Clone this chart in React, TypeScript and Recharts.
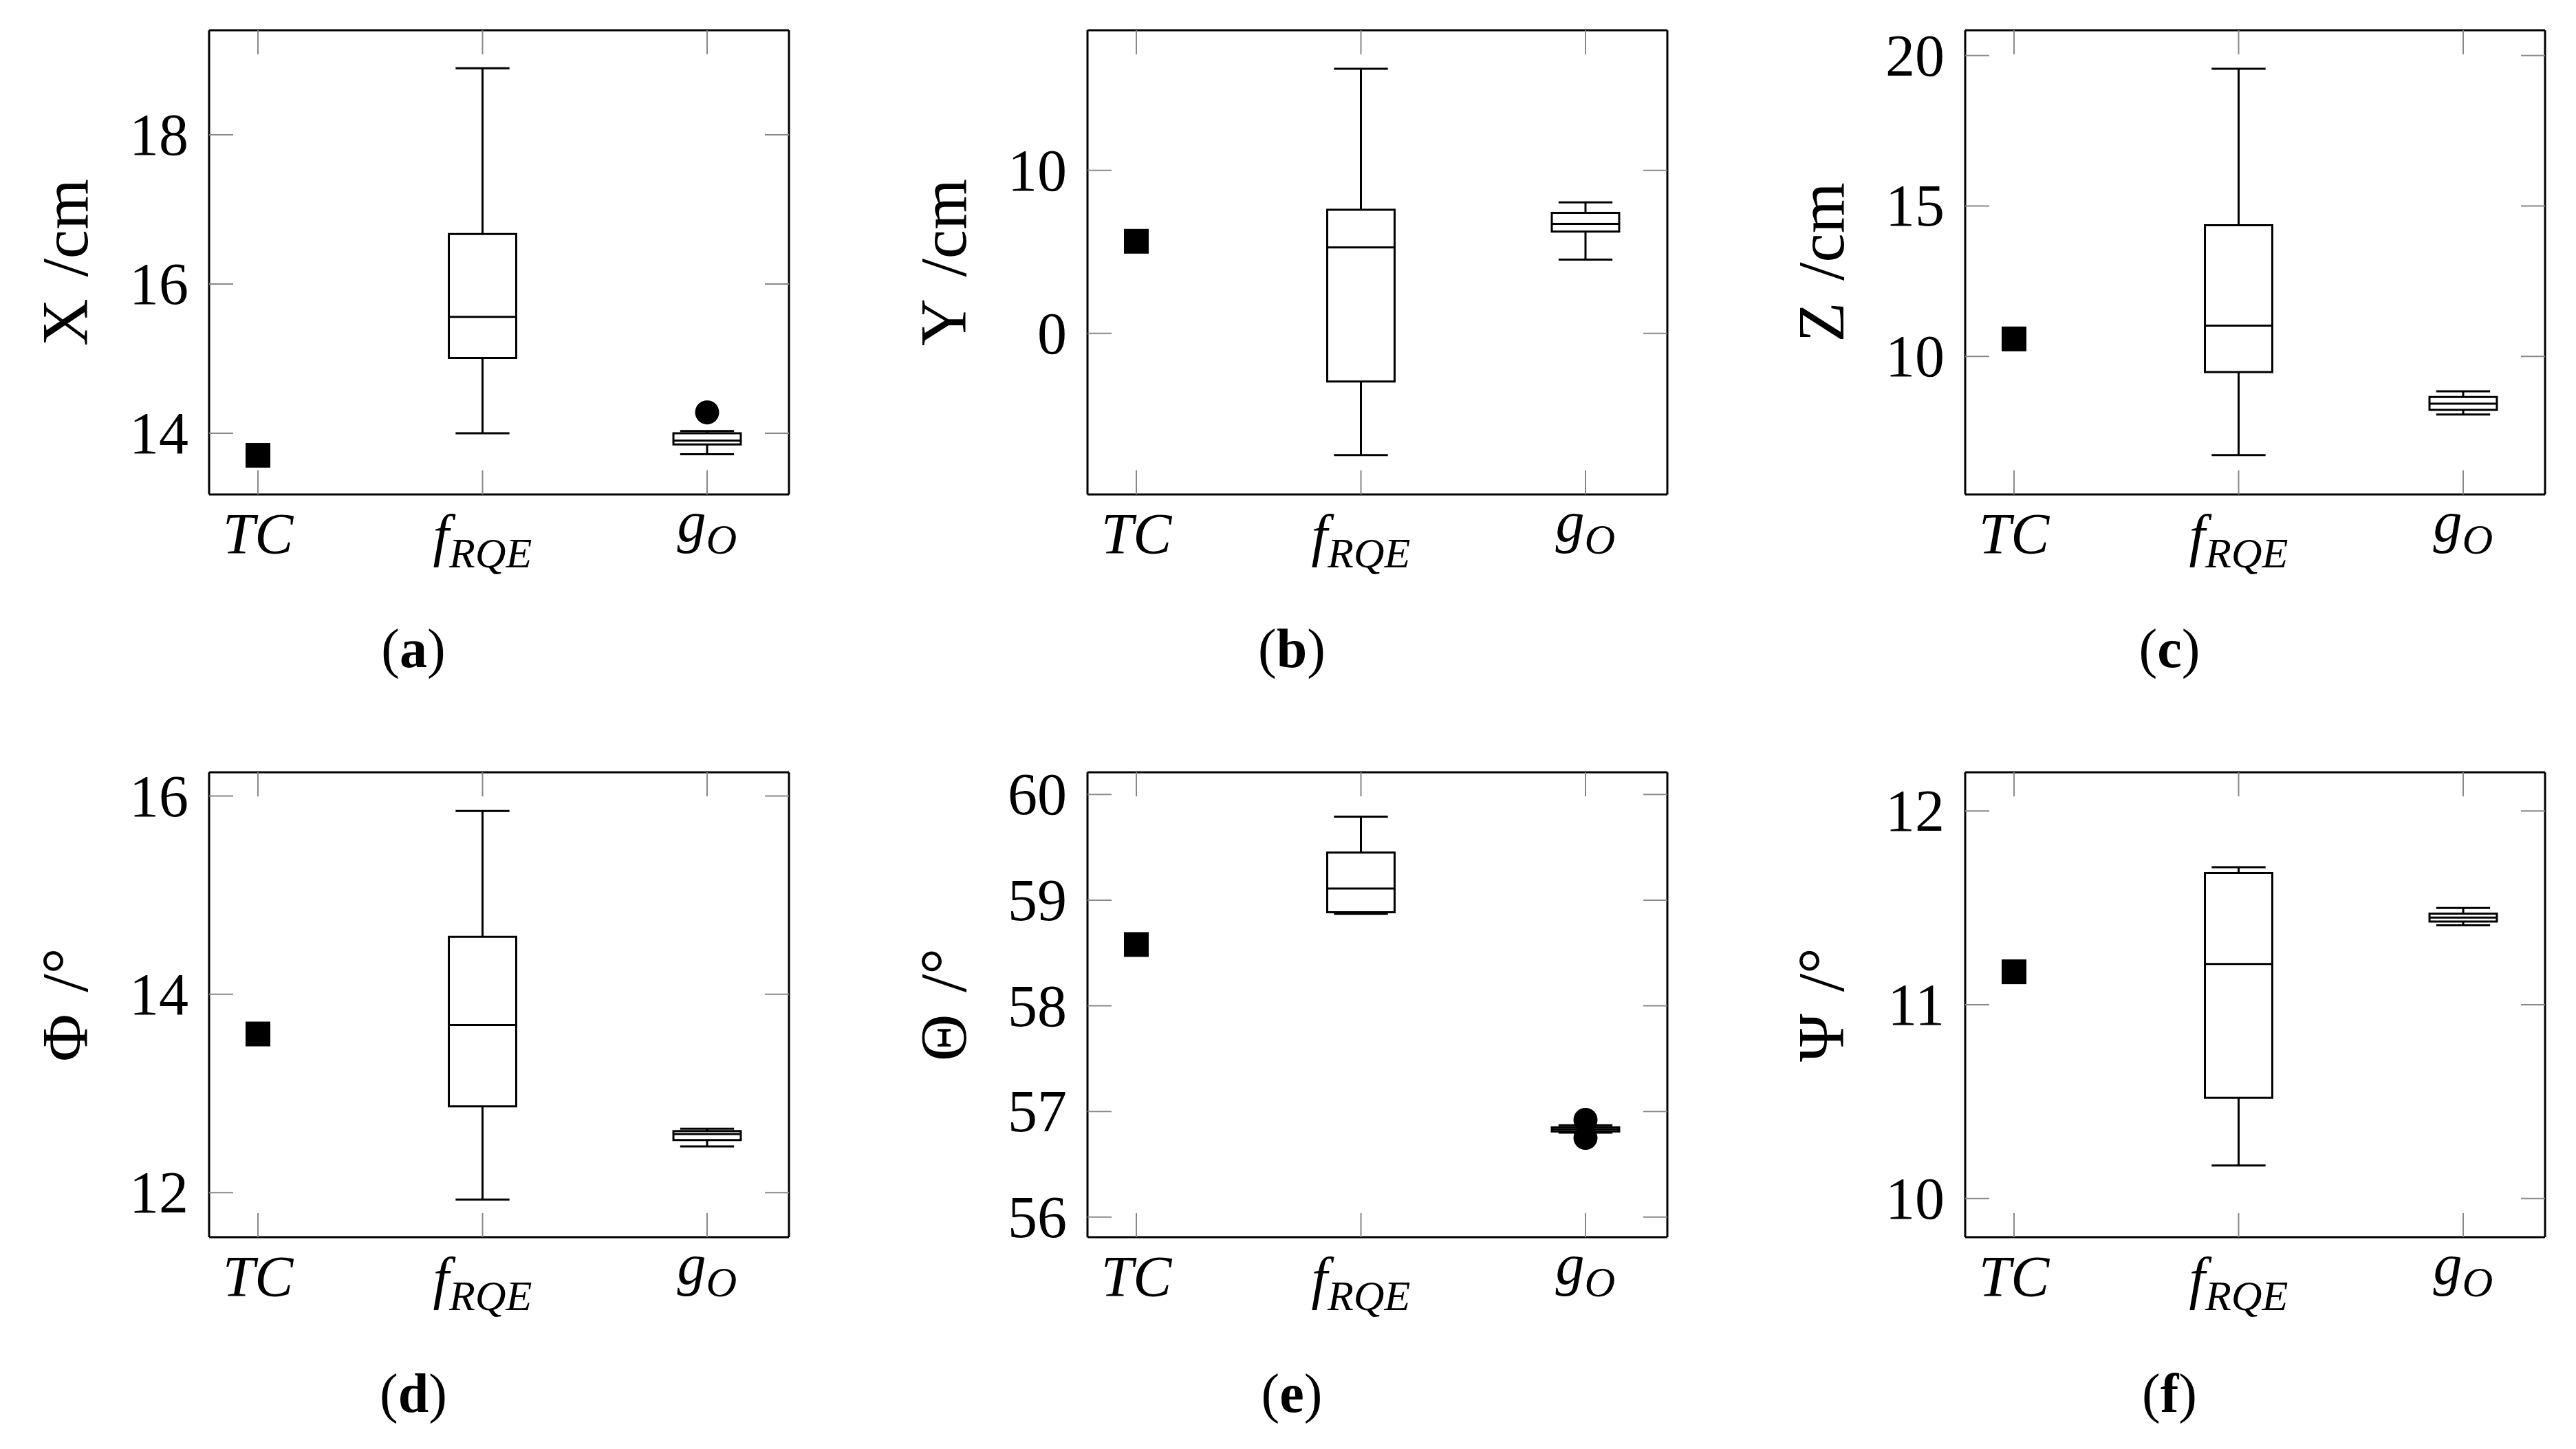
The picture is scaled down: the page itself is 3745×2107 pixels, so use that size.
import React from 'react';
import { ComposedChart, XAxis, YAxis, Scatter, ReferenceArea, ReferenceLine } from 'recharts';

// ---- data ----
const categoryPositions = [1, 2, 3];
const categoryMain = ['TC', 'f', 'g'];
const categorySub = ['', 'RQE', 'O'];

const yLabels = ['X\u2004/cm', 'Y\u2004/cm', 'Z\u2004/cm', 'Φ\u2004/°', 'Θ\u2004/°', 'Ψ\u2004/°'];
const captionLetters = ['a', 'b', 'c', 'd', 'e', 'f'];

// TC single values per panel
const tcValues = [13.705, 5.65, 10.58, 13.6, 58.58, 11.17];
// box stats: [min, q1, median, q3, max]
const frqeStats = [
  [14.0, 15.01, 15.56, 16.67, 18.89],
  [-7.47, -2.96, 5.27, 7.58, 16.24],
  [6.72, 9.48, 11.02, 14.36, 19.56],
  [11.93, 12.87, 13.69, 14.58, 15.85],
  [58.87, 58.885, 59.11, 59.45, 59.79],
  [10.17, 10.52, 11.21, 11.68, 11.71],
];
const goStats = [
  [13.72, 13.85, 13.9, 14.0, 14.03],
  [4.52, 6.24, 6.72, 7.39, 8.04],
  [8.07, 8.22, 8.43, 8.65, 8.84],
  [12.465, 12.53, 12.59, 12.62, 12.645],
  [56.8, 56.81, 56.83, 56.85, 56.87],
  [11.41, 11.43, 11.45, 11.47, 11.5],
];
const goOutliers = [[14.28], [], [], [], [56.92, 56.75], []];
const yTicks = [
  [14, 16, 18],
  [0, 10],
  [10, 15, 20],
  [12, 14, 16],
  [56, 57, 58, 59, 60],
  [10, 11, 12],
];
const yDomains = [
  [13.18, 19.4],
  [-9.89, 18.6],
  [5.41, 20.84],
  [11.55, 16.24],
  [55.81, 60.21],
  [9.8, 12.2],
];
const xDomain = [0.7825, 3.3645];

// ---- layout / style ----
const FONT = "'Liberation Serif', 'DejaVu Serif', serif";
const frameLefts = [304, 1581, 2857];
const frameTops = [44, 1123];
const plotW = 843;
const plotHs = [675, 676];
const LEFT_W = 300;
const TOP_M = 19;
const TOP_AX = 1;
const RIGHT_M = 19;
const RIGHT_AX = 1;
const BOTTOM_H = 150;
const BOTTOM_M = 10;
const BOX_HALF = 0.15;
const CAP_HALF = 0.12;
const TICK_LEN = 35;
const LINE_W = 3;

const XTick = (props: any) => {
  const { x, y, payload } = props;
  const idx = Math.round(payload.value) - 1;
  const main = categoryMain[idx];
  const sub = categorySub[idx];
  const base = idx === 0 ? 86 : idx === 1 ? 88 : 68;
  return (
    <text x={x} y={y + base} textAnchor="middle" fontFamily={FONT} fontStyle="italic" fontSize={84} fill="#000">
      <tspan>{main}</tspan>
      {sub ? (
        <tspan dy={18} fontSize={62}>
          {sub}
        </tspan>
      ) : null}
    </text>
  );
};

const YTick = (props: any) => {
  const { x, y, payload } = props;
  return (
    <text x={x} y={y + 29} textAnchor="end" fontFamily={FONT} fontSize={86} fill="#000">
      {payload.value}
    </text>
  );
};

const EmptyTick = () => <g />;
const EmptyShape = () => <g />;

const SquareShape = (props: any) => {
  const { cx, cy } = props;
  return <rect x={cx - 18} y={cy - 18} width={36} height={36} fill="#000" />;
};
const CircleShape = (props: any) => {
  const { cx, cy } = props;
  return <circle cx={cx} cy={cy} r={17.5} fill="#000" />;
};

function boxElements(pos: number, s: number[], key: string) {
  const [mn, q1, med, q3, mx] = s;
  const common = { xAxisId: 'b', yAxisId: 'l', stroke: '#000', strokeWidth: LINE_W, ifOverflow: 'visible' as const };
  return [
    <ReferenceLine key={key + 'w1'} {...common} segment={[{ x: pos, y: mn }, { x: pos, y: q1 }]} />,
    <ReferenceLine key={key + 'w2'} {...common} segment={[{ x: pos, y: q3 }, { x: pos, y: mx }]} />,
    <ReferenceLine key={key + 'c1'} {...common} segment={[{ x: pos - CAP_HALF, y: mn }, { x: pos + CAP_HALF, y: mn }]} />,
    <ReferenceLine key={key + 'c2'} {...common} segment={[{ x: pos - CAP_HALF, y: mx }, { x: pos + CAP_HALF, y: mx }]} />,
    <ReferenceArea
      key={key + 'box'}
      xAxisId="b"
      yAxisId="l"
      x1={pos - BOX_HALF}
      x2={pos + BOX_HALF}
      y1={q1}
      y2={q3}
      fill="none"
      fillOpacity={0}
      stroke="#000"
      strokeWidth={LINE_W}
      strokeOpacity={1}
      ifOverflow="visible"
    />,
    <ReferenceLine key={key + 'med'} {...common} segment={[{ x: pos - BOX_HALF, y: med }, { x: pos + BOX_HALF, y: med }]} />,
  ];
}

const Panel = ({ i }: { i: number }) => {
  const row = Math.floor(i / 3);
  const col = i % 3;
  const plotH = plotHs[row];
  const width = LEFT_W + plotW + RIGHT_AX + RIGHT_M;
  const height = TOP_M + TOP_AX + plotH + BOTTOM_H + BOTTOM_M;
  const left = frameLefts[col] - LEFT_W;
  const top = frameTops[row] - TOP_M - TOP_AX;
  const tcData = [{ x: categoryPositions[0], y: tcValues[i] }];
  const outData = goOutliers[i].map((v) => ({ x: categoryPositions[2], y: v }));
  const axisLine = { stroke: '#000', strokeWidth: 3 };
  const tickLine = { stroke: '#888', strokeWidth: 2 };
  const label = yLabels[i];
  return (
    <div style={{ position: 'absolute', left, top, width, height }}>
      <ComposedChart width={width} height={height} margin={{ top: TOP_M, right: RIGHT_M, bottom: BOTTOM_M, left: 0 }}>
        <XAxis
          xAxisId="b"
          type="number"
          dataKey="x"
          domain={xDomain}
          ticks={categoryPositions}
          allowDataOverflow
          orientation="bottom"
          height={BOTTOM_H}
          tickSize={-TICK_LEN}
          tickMargin={TICK_LEN}
          axisLine={axisLine}
          tickLine={tickLine}
          tick={<XTick />}
          interval={0}
        />
        <XAxis
          xAxisId="t"
          type="number"
          dataKey="x"
          domain={xDomain}
          ticks={categoryPositions}
          allowDataOverflow
          orientation="top"
          height={TOP_AX}
          tickSize={-TICK_LEN}
          axisLine={axisLine}
          tickLine={tickLine}
          tick={<EmptyTick />}
          interval={0}
        />
        <YAxis
          yAxisId="l"
          type="number"
          dataKey="y"
          domain={yDomains[i]}
          ticks={yTicks[i]}
          allowDataOverflow
          width={LEFT_W}
          tickSize={-TICK_LEN}
          tickMargin={TICK_LEN + 30}
          axisLine={axisLine}
          tickLine={tickLine}
          tick={<YTick />}
          interval={0}
          label={{
            content: (p: any) => {
              const vb = p && p.viewBox ? p.viewBox : { x: 0, y: TOP_M + TOP_AX, width: LEFT_W, height: plotH };
              const lx = vb.x + vb.width - 177;
              const ly = vb.y + vb.height / 2;
              return (
                <text
                  x={lx}
                  y={ly}
                  transform={`rotate(-90 ${lx} ${ly})`}
                  textAnchor="middle"
                  fontFamily={FONT}
                  fontSize={95}
                  fill="#000"
                >
                  {label}
                </text>
              );
            },
          }}
        />
        <YAxis
          yAxisId="r"
          orientation="right"
          type="number"
          dataKey="y"
          domain={yDomains[i]}
          ticks={yTicks[i]}
          allowDataOverflow
          width={RIGHT_AX}
          tickSize={-TICK_LEN}
          axisLine={axisLine}
          tickLine={tickLine}
          tick={<EmptyTick />}
          interval={0}
        />
        {boxElements(categoryPositions[1], frqeStats[i], 'f')}
        {boxElements(categoryPositions[2], goStats[i], 'g')}
        <Scatter xAxisId="t" yAxisId="r" data={tcData} dataKey="y" shape={EmptyShape} isAnimationActive={false} />
        <Scatter xAxisId="b" yAxisId="l" data={tcData} dataKey="y" shape={SquareShape} isAnimationActive={false} />
        <Scatter xAxisId="b" yAxisId="l" data={outData} dataKey="y" shape={CircleShape} isAnimationActive={false} />
      </ComposedChart>
    </div>
  );
};

const captionCenters = [297, 297, 297];
const captionTops = [903, 1986];

export default function App() {
  return (
    <div style={{ position: 'absolute', left: 0, top: 0, width: 3745, height: 2107, background: '#fff', overflow: 'hidden' }}>
      {[0, 1, 2, 3, 4, 5].map((i) => (
        <Panel key={i} i={i} />
      ))}
      {captionLetters.map((c, i) => {
        const row = Math.floor(i / 3);
        const col = i % 3;
        const cx = frameLefts[col] + captionCenters[col];
        return (
          <div
            key={c}
            style={{
              position: 'absolute',
              left: cx - 150,
              width: 300,
              top: captionTops[row],
              textAlign: 'center',
              fontFamily: FONT,
              fontSize: 80,
              lineHeight: '80px',
              color: '#000',
            }}
          >
            (<b>{c}</b>)
          </div>
        );
      })}
    </div>
  );
}
